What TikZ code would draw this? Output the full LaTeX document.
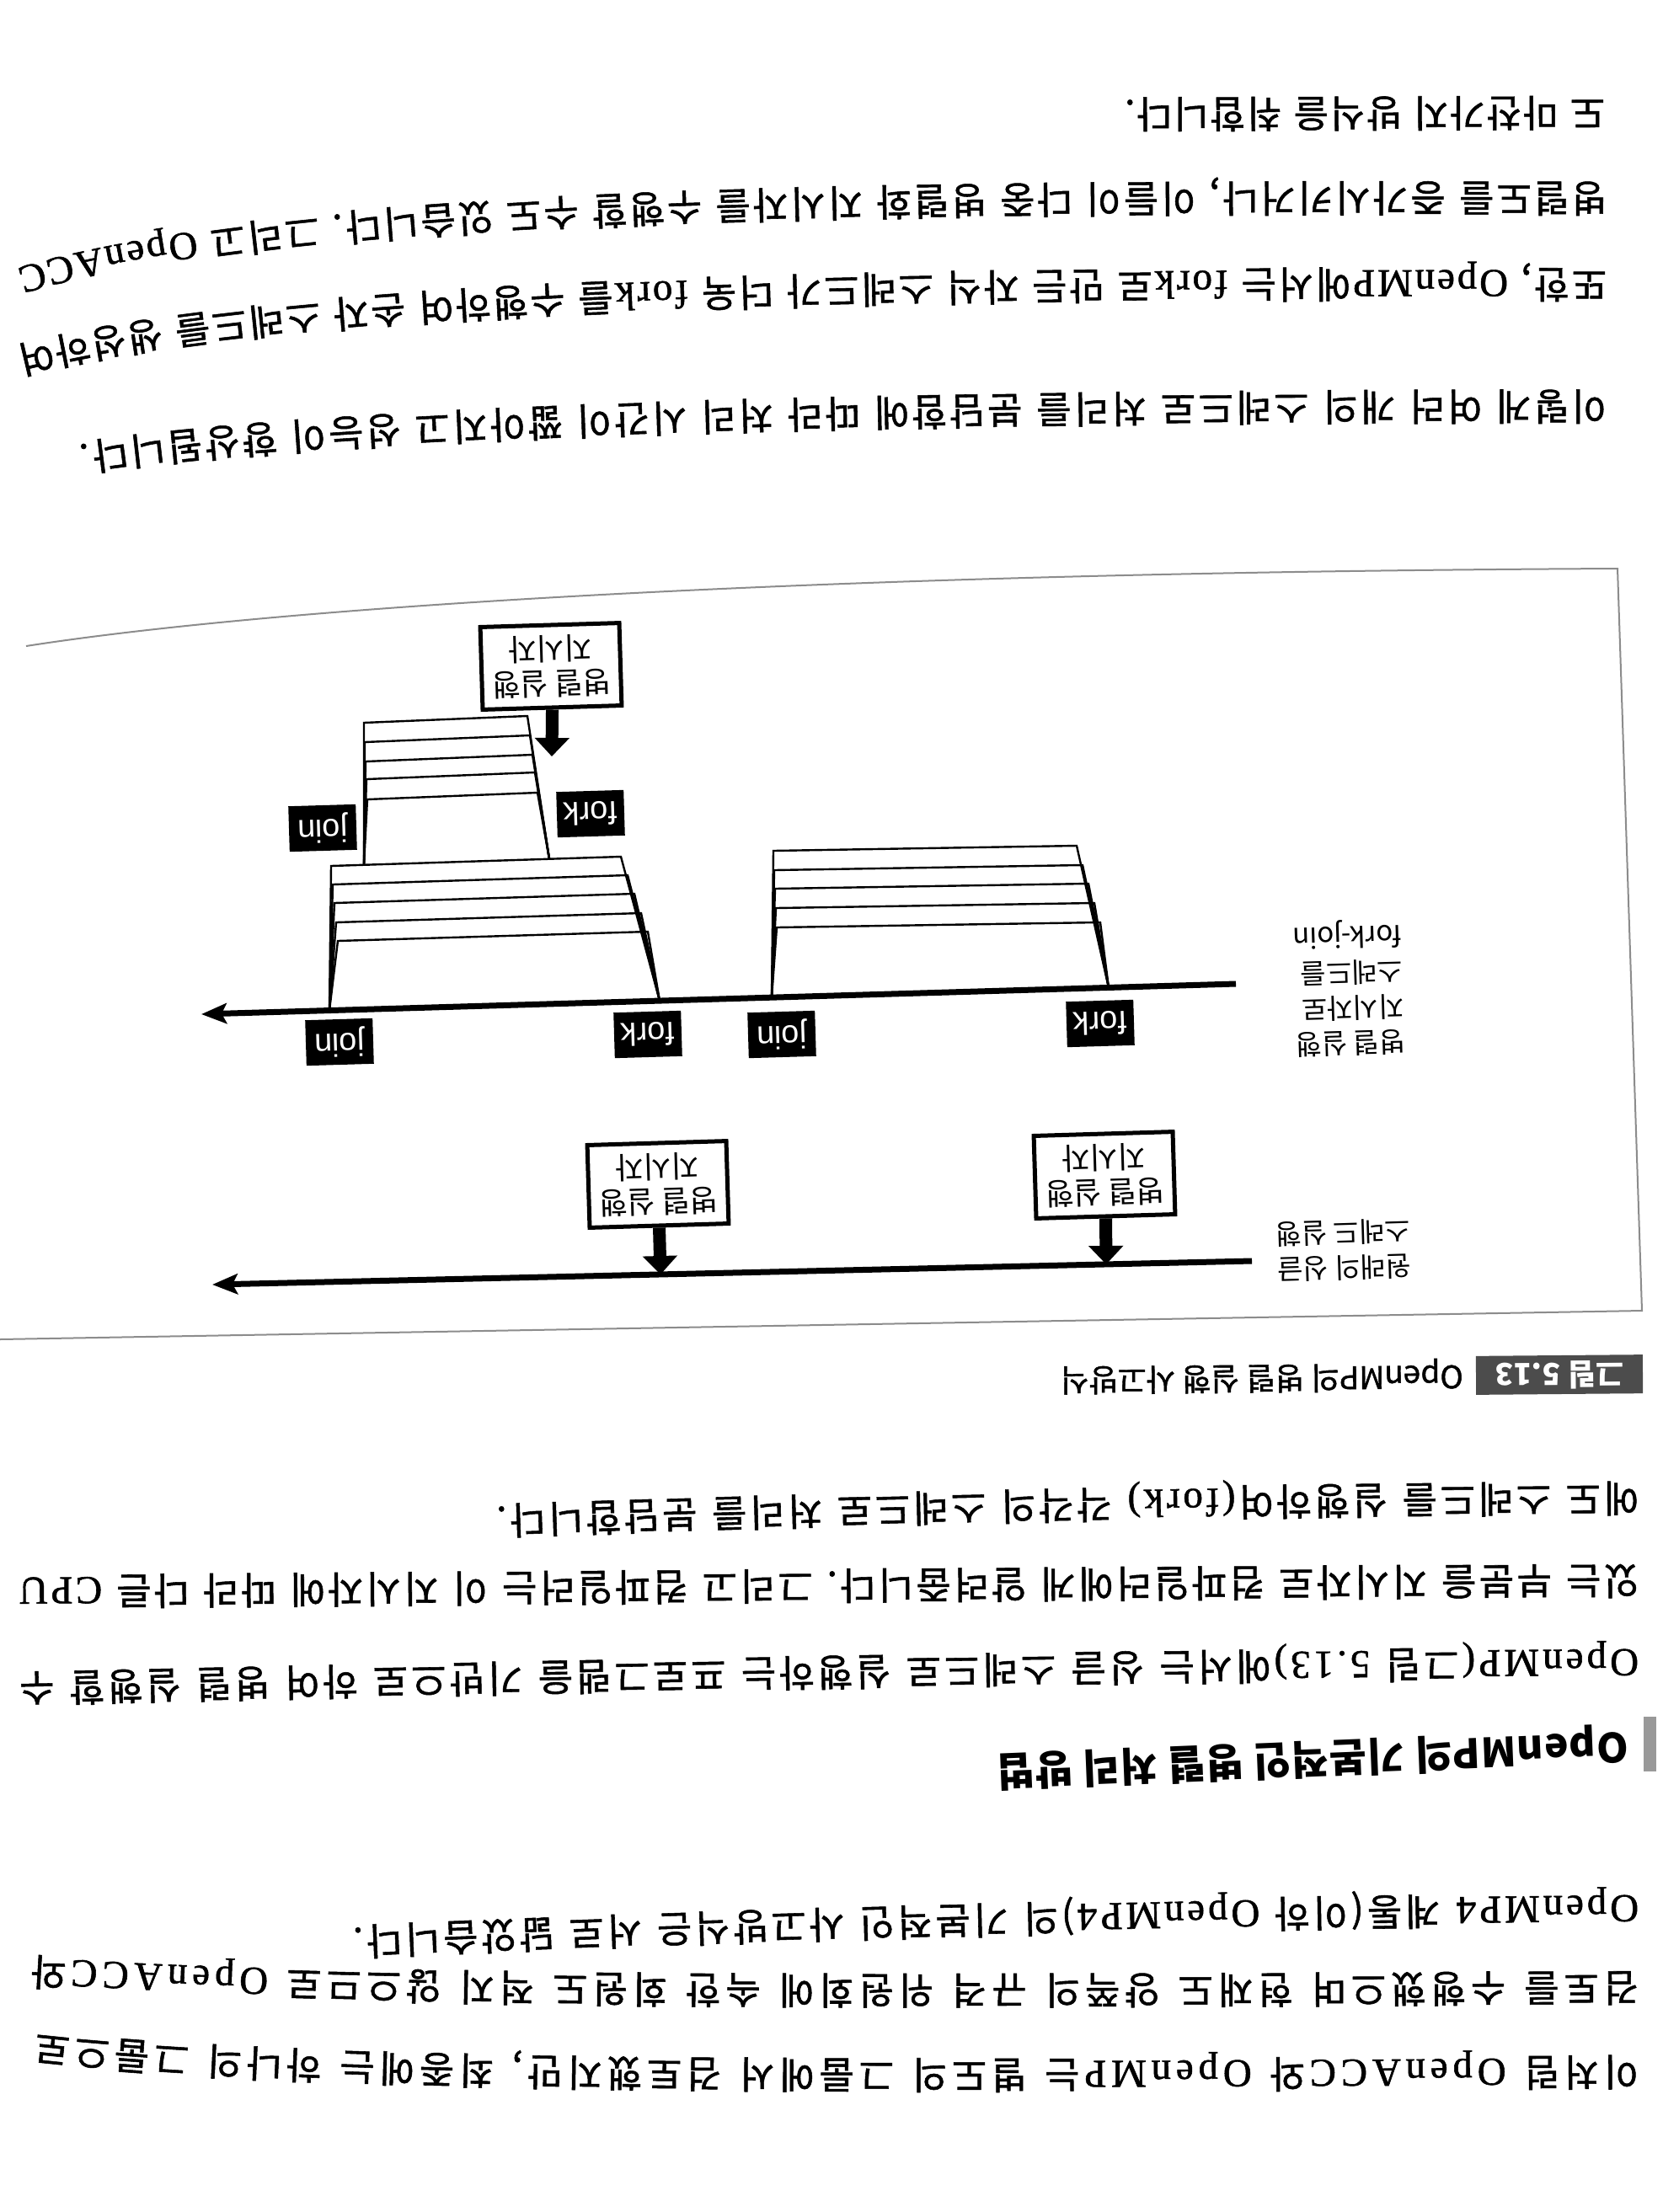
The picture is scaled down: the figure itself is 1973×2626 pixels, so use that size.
\documentclass[tikz,border=0pt]{standalone}
\usepackage{fontspec}
\usetikzlibrary{arrows.meta,decorations.text}
\newfontfamily\cjk{Noto Sans CJK KR}
\newfontfamily\cjkm{Noto Sans CJK KR}[FakeBold=1.2]
\newfontfamily\serifL{Liberation Serif}[FakeBold=1.2]
\newfontfamily\sansL{Liberation Sans}
\newcommand\topK{\cjkm\fontsize{45}{45}\selectfont}
\newcommand\topL{\serifL\fontsize{47}{47}\selectfont}
\newcommand\botK{\cjkm\fontsize{45}{45}\selectfont}
\newcommand\botL{\serifL\fontsize{47}{47}\selectfont}
\newcommand\headK{\cjk\bfseries\fontsize{48}{48}\selectfont}
\newcommand\boxfnt{\cjk\fontsize{36}{42}\selectfont}
\newcommand\sidefnt{\cjk\fontsize{33}{42}\selectfont}
\newcommand\labfnt{\sansL\fontsize{38}{38}\selectfont}
\newcommand\capfnt{\cjkm\fontsize{37}{37}\selectfont}
\tikzset{
  layer/.style={line width=2.4pt, line join=miter},
  timeline/.style={line width=7pt, -{Stealth[length=30pt,width=24pt,inset=6pt]}},
  dirbox/.style={draw, line width=5pt, fill=white, minimum width=165pt, minimum height=98pt,
    inner sep=0pt, align=center, font=\boxfnt, rotate=181.7},
  dirarrow/.style={line width=15pt, -{Triangle[length=22pt,width=40pt]}},
  fjlab/.style={fill=black, text=white, minimum width=80pt, minimum height=54pt, inner sep=0pt,
    font=\labfnt, rotate=181.7},
  sidelab/.style={align=left, font=\sidefnt, inner sep=0pt, rotate=181.7},
  framec/.style={draw=black!45, line width=2pt}
}
\begin{document}
\begin{tikzpicture}[x=1pt,y=-1pt]
\fill[white] (0,0) rectangle (1973,2626);
\useasboundingbox (0,0) rectangle (1973,2626);

% ---------- top text block ----------
\path[decorate,decoration={text along path,text align={fit to path},
  text={|\topK|도 마찬가지 방식을 취합니다.}}] (1905,117) -- (1335,119);
\path[decorate,decoration={text along path,text align={fit to path},
  text={|\topK|병렬도를 증가시키거나{,} 이들이 다중 병렬화 지시자를 수행할 수도 있습니다. 그리고 |\topL|OpenACC}}]
  (1907,219) .. controls (1100,217) and (350,220) .. (22,318);
\path[decorate,decoration={text along path,text align={fit to path},
  text={|\topK|또한{,} |\topL|OpenMP|\topK|에서는 |\topL|fork|\topK|로 만든 자식 스레드가 더욱 |\topL|fork|\topK|를 수행하여 손자 스레드를 생성하여}}]
  (1907,321) .. controls (1100,319) and (350,328) .. (22,412);
\path[decorate,decoration={text along path,text align={fit to path},
  text={|\topK|이렇게 여러 개의 스레드로 처리를 분담함에 따라 처리 시간이 짧아지고 성능이 향상됩니다.}}]
  (1907,466) .. controls (1100,465) and (400,482) .. (95,528);

% ---------- diagram frame ----------
\draw[framec] (31,767) .. controls (300,725) and (900,680) .. (1920,675) -- (1949,1556) -- (0,1590);

% ---------- fork-join timeline ----------
\coordinate (ftR) at (1467,1168);
\coordinate (ftL) at (239,1204);
\coordinate (F1) at (783,1188);
\coordinate (J1) at (391,1199.5);
\coordinate (F3) at (1316,1172.4);
\coordinate (J3) at (916,1184.2);
\coordinate (F2) at (652,1019.7);
\coordinate (J2) at (432,1026.8);

\foreach \xl/\yl/\xr/\yr in {393/1028/737/1017, 395/1050/745/1039, 397/1072/753/1061, 399/1095/761/1084, 401/1117/769/1106}
  \draw[layer] (J1) -- (\xl,\yl) -- (\xr,\yr) -- (F1);
\foreach \xl/\yl/\xr/\yr in {432/858/626/850, 433/881/629/873, 434/904/632/896, 435/925/635/917, 436/949/638/941}
  \draw[layer] (J2) -- (\xl,\yl) -- (\xr,\yr) -- (F2);
\foreach \xl/\yl/\xr/\yr in {918/1010/1278/1004, 919/1033/1285/1027, 920/1055/1292/1049, 921/1078/1299/1072, 922/1101/1306/1095}
  \draw[layer] (J3) -- (\xl,\yl) -- (\xr,\yr) -- (F3);

\draw[timeline] (ftR) -- (ftL);

\node[fjlab] (lj1) at (403,1237) {join};
\node[fjlab] (lf1) at (769,1228) {fork};
\node[fjlab] (lj3) at (928,1228) {join};
\node[fjlab] (lf3) at (1306,1215) {fork};
\node[fjlab] (lj2) at (383,983) {join};
\node[fjlab] (lf2) at (701,966) {fork};

\node[dirbox] (ub) at (654,791) {병렬 실행\\지시자};
\coordinate (ubT) at (655,898);
\draw[dirarrow] (ub.north) -- (ubT);

\node[sidelab] (sfj) at (1601,1173) {병렬 실행\\지시자로\\스레드를\\fork-join};

% ---------- single-thread timeline ----------
\coordinate (stR) at (1486,1497);
\coordinate (stL) at (252,1525);
\draw[timeline] (stR) -- (stL);
\node[dirbox] (bA) at (1311,1395) {병렬 실행\\지시자};
\node[dirbox] (bB) at (781,1406) {병렬 실행\\지시자};
\coordinate (tA) at (1313,1501);
\coordinate (tB) at (784,1513);
\draw[dirarrow] (bA.north) -- (tA);
\draw[dirarrow] (bB.north) -- (tB);
\node[sidelab] (sst) at (1595,1484) {원래의 싱글\\스레드 실행};

% ---------- caption ----------
\node[fill=black!70, text=white, minimum width=198pt, minimum height=46pt, inner sep=0pt,
  font=\cjk\bfseries\fontsize{36}{36}\selectfont, rotate=180.5] (capbox) at (1851,1632) {그림 5.13};
\node[anchor=west, inner sep=0pt, font=\capfnt, rotate=180.5] (captxt) at (1737,1632) {OpenMP의 병렬 실행 사고방식};

% ---------- bottom text ----------
\path[decorate,decoration={text along path,text align={fit to path},
  text={|\botK|에도 스레드를 실행하여|\botL|(fork) |\botK|각각의 스레드로 처리를 분담합니다.}}]
  (1945,1762) .. controls (1500,1764) and (1000,1774) .. (590,1789);
\path[decorate,decoration={text along path,text align={fit to path},
  text={|\botK|있는 부분을 지시자로 컴파일러에게 알려줍니다. 그리고 컴파일러는 이 지시자에 따라 다른 |\botL|CPU}}]
  (1945,1860) .. controls (1300,1863) and (600,1869) .. (25,1873);
\path[decorate,decoration={text along path,text align={fit to path},
  text={|\botL|OpenMP(|\botK|그림 |\botL|5.13)|\botK|에서는 싱글 스레드로 실행하는 프로그램을 기반으로 하여 병렬 실행할 수}}]
  (1945,1958) .. controls (1300,1961) and (600,1975) .. (25,1988);

\fill[black!40] (1951,2038) rectangle (1966,2103);
\path[decorate,decoration={text along path,text align={fit to path},
  text={|\headK|OpenMP의 기본적인 병렬 처리 방법}}]
  (1932,2056) -- (1183,2086);

\path[decorate,decoration={text along path,text align={fit to path},
  text={|\botL|OpenMP4 |\botK|계통(이하 |\botL|OpenMP4|\botK|)의 기본적인 사고방식은 서로 닮았습니다.}}]
  (1945,2250) .. controls (1400,2254) and (800,2271) .. (420,2289);
\path[decorate,decoration={text along path,text align={fit to path},
  text={|\botK|검토를 수행했으며 현재도 양쪽의 규격 위원회에 속한 회원도 적지 않으므로 |\botL|OpenACC|\botK|와}}]
  (1945,2343) .. controls (1200,2347) and (500,2353) .. (40,2324);
\path[decorate,decoration={text along path,text align={fit to path},
  text={|\botK|이처럼 |\botL|OpenACC|\botK|와 |\botL|OpenMP|\botK|는 별도의 그룹에서 검토했지만{,} 최종에는 하나의 그룹으로}}]
  (1945,2443) .. controls (1100,2449) and (400,2453) .. (45,2414);
\end{tikzpicture}
\end{document}
